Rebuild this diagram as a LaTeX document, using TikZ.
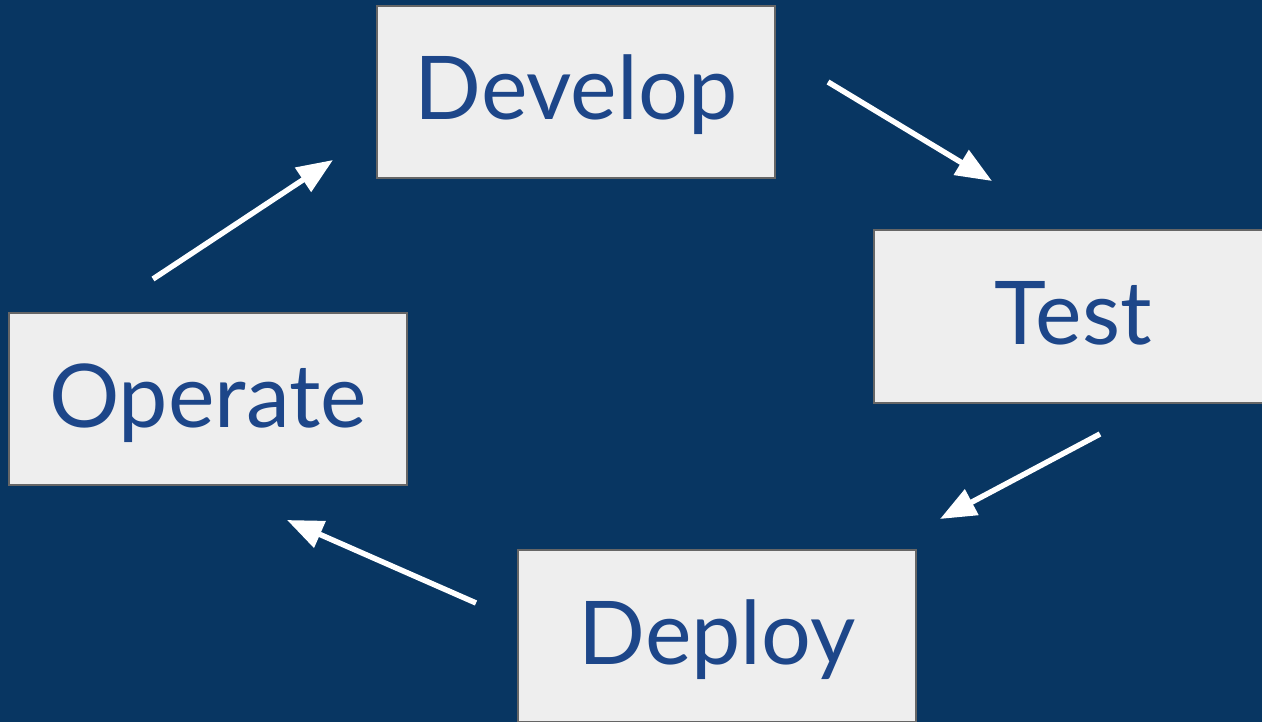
\documentclass[tikz,border=0pt]{standalone}
\usepackage{fontspec}
\setmainfont{Lato}
\usetikzlibrary{arrows.meta}
\definecolor{bgblue}{HTML}{083662}
\definecolor{textblue}{HTML}{1D4689}
\definecolor{boxfill}{HTML}{EEEEEE}
\definecolor{boxline}{HTML}{666666}
\tikzset{
  stage/.style={draw=boxline, line width=2pt, fill=boxfill, inner sep=0pt,
    minimum width=398pt, minimum height=172pt,
    text=textblue, font=\fontsize{88}{100}\selectfont,
    text height=66pt, text depth=10pt},
  flow/.style={draw=white, line width=5.5pt,
    -{Triangle[length=36pt, width=28pt]}}
}
\begin{document}
\begin{tikzpicture}[x=1pt, y=-1pt]
  \useasboundingbox (0,0) rectangle (1262,722);
  \clip (0,0) rectangle (1262,722);
  \fill[bgblue] (0,0) rectangle (1262,722);

  % the four stages of the cycle
  \node[stage] (develop) at (576,92)    {Develop};
  \node[stage] (test)    at (1073,316.5) {Test};
  \node[stage] (deploy)  at (717,636)   {Deploy};
  \node[stage] (operate) at (208,399)   {Operate};

  % arrow end points between the stages
  \coordinate (dt1) at (828,82);
  \coordinate (dt2) at (992,181);
  \coordinate (td1) at (1100,434);
  \coordinate (td2) at (940,519);
  \coordinate (do1) at (476,603);
  \coordinate (do2) at (287,520);
  \coordinate (od1) at (153,279);
  \coordinate (od2) at (333,160);

  \draw[flow] (dt1) -- (dt2);
  \draw[flow] (td1) -- (td2);
  \draw[flow] (do1) -- (do2);
  \draw[flow] (od1) -- (od2);
\end{tikzpicture}
\end{document}
